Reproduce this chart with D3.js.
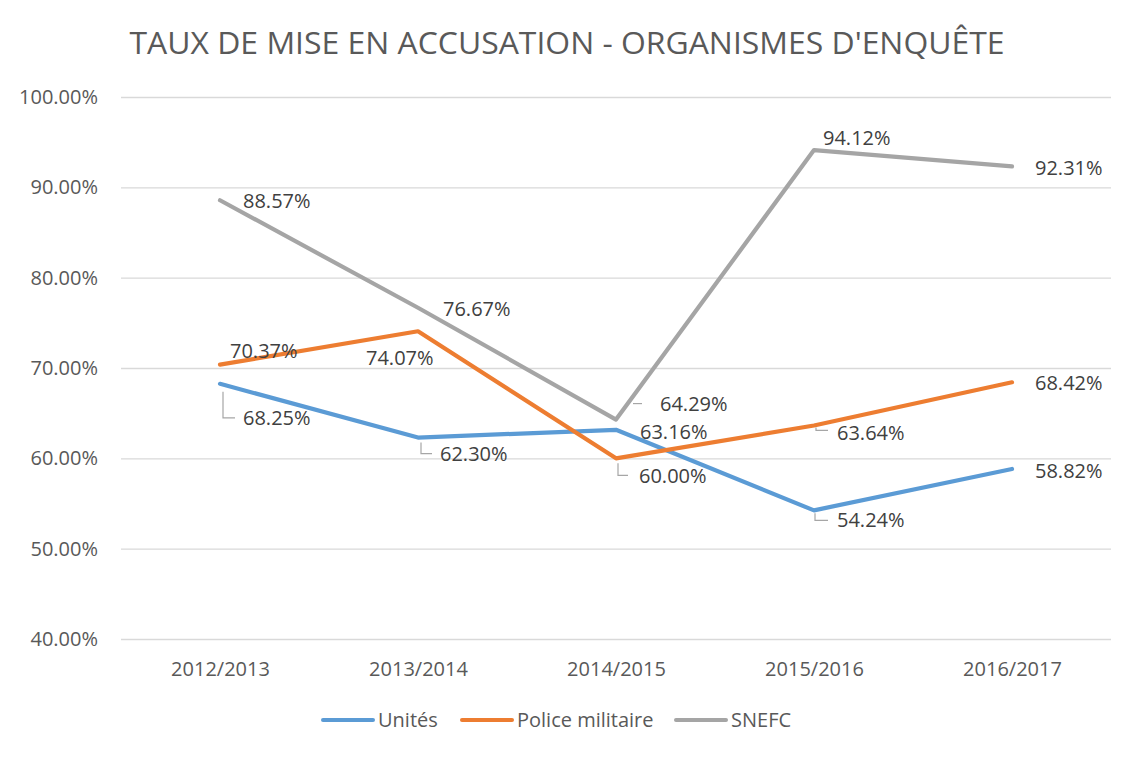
<!DOCTYPE html>
<html><head><meta charset="utf-8">
<script src="https://cdn.jsdelivr.net/npm/d3@7"></script>
<style>body{margin:0;background:#fff;} text{font-family:"Open Sans",sans-serif;}</style>
</head><body>
<svg id="c" width="1140" height="762"></svg>
<script>
const categories = ["2012/2013","2013/2014","2014/2015","2015/2016","2016/2017"];
const unites = [68.25, 62.30, 63.16, 54.24, 58.82];
const police = [70.37, 74.07, 60.00, 63.64, 68.42];
const snefc  = [88.57, 76.67, 64.29, 94.12, 92.31];
const yTicks = [40, 50, 60, 70, 80, 90, 100];
const seriesNames = ["Unités", "Police militaire", "SNEFC"];

// layout: label offsets (dx to text start, dy to text centre) and leader polylines
const layout = {
  "Unités": [
    {dx:23, dy:34, lead:[[3,8],[3,34],[15,34]]},
    {dx:22, dy:16, lead:[[3,5],[3,16],[14,16]]},
    {dx:24, dy:2},
    {dx:23, dy:10, lead:[[1,3],[1,10],[14,10]]},
    {dx:23, dy:2}
  ],
  "Police militaire": [
    {dx:10, dy:-14},
    {dx:-52, dy:27},
    {dx:23, dy:18, lead:[[2,5],[2,17],[12,17]]},
    {dx:23, dy:8, lead:[[2,2],[2,5],[14,5]]},
    {dx:23, dy:1}
  ],
  "SNEFC": [
    {dx:23, dy:1},
    {dx:25, dy:1},
    {dx:44, dy:-16, lead:[[17,-16],[26,-16]]},
    {dx:9, dy:-12},
    {dx:23, dy:2}
  ]
};
const colors = {"Unités":"#5B9BD5","Police militaire":"#ED7D31","SNEFC":"#A5A5A5"};
const data = {"Unités":unites,"Police militaire":police,"SNEFC":snefc};

const svg = d3.select("#c");
const pLeft = 121, pRight = 1111, pTop = 97, pBottom = 639;
const x = d3.scalePoint().domain(categories).range([pLeft, pRight]).padding(0.5);
const y = d3.scaleLinear().domain([40, 100]).range([pBottom, pTop]);
const textCol = "#595959";

// title
svg.append("text").attr("x", 567).attr("y", 54).attr("text-anchor","middle")
  .attr("font-size", 31).attr("fill", textCol)
  .attr("textLength", 875).attr("lengthAdjust","spacingAndGlyphs")
  .text("TAUX DE MISE EN ACCUSATION - ORGANISMES D'ENQUÊTE");

// gridlines + y labels
const yAxis = d3.axisLeft(y).tickValues(yTicks).tickSize(-(pRight-pLeft)).tickPadding(23)
  .tickFormat(d => d.toFixed(2) + "%");
const gy = svg.append("g").attr("transform", `translate(${pLeft},0)`).call(yAxis);
gy.select(".domain").remove();
gy.selectAll(".tick line").attr("stroke", "#D9D9D9").attr("stroke-width", 1.3);
gy.selectAll(".tick text").attr("font-size", 20).attr("fill", textCol).attr("font-family","Open Sans");

// x labels
const xAxis = d3.axisBottom(x).tickSize(0).tickPadding(23);
const gx = svg.append("g").attr("transform", `translate(0,${pBottom})`).call(xAxis);
gx.select(".domain").remove();
gx.selectAll(".tick text").attr("font-size", 20).attr("fill", textCol).attr("font-family","Open Sans");

// lines
const line = d3.line().x((d,i) => x(categories[i])).y(d => y(d));
seriesNames.forEach(name => {
  svg.append("path").datum(data[name]).attr("d", line).attr("fill","none")
    .attr("stroke", colors[name]).attr("stroke-width", 4.2).attr("stroke-linejoin","round").attr("stroke-linecap","round");
});

// labels
seriesNames.forEach(name => {
  data[name].forEach((v, i) => {
    const px = x(categories[i]), py = y(v);
    const L = layout[name][i];
    if (L.lead) {
      svg.append("polyline").attr("points", L.lead.map(p => [px+p[0], py+p[1]].join(",")).join(" "))
        .attr("fill","none").attr("stroke","#A6A6A6").attr("stroke-width",1.2);
    }
    svg.append("text").attr("x", px + L.dx).attr("y", py + L.dy).attr("dy","0.35em")
      .attr("font-size", 20).attr("fill", "#404040").text(v.toFixed(2) + "%");
  });
});

// legend
const legendX = [323, 462, 676];
seriesNames.forEach((name, i) => {
  const g = svg.append("g").attr("transform", `translate(${legendX[i]},720)`);
  g.append("line").attr("x1",0).attr("x2",50).attr("y1",0).attr("y2",0)
    .attr("stroke", colors[name]).attr("stroke-width",4).attr("stroke-linecap","round");
  g.append("text").attr("x",55).attr("y",0).attr("dy","0.35em").attr("font-size",20).attr("fill",textCol).text(name);
});
</script>
</body></html>
